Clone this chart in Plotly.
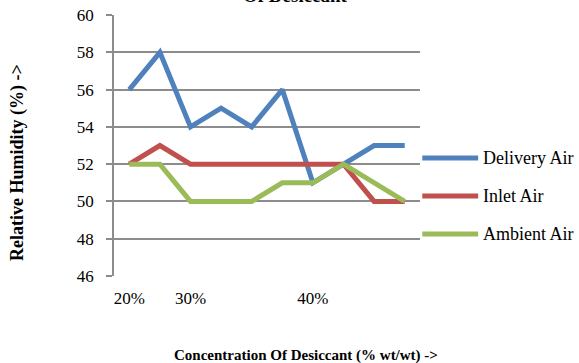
import plotly.graph_objects as go

# ---- data ----
x_pos = [1, 2, 3, 4, 5, 6, 7, 8, 9, 10]
tick_vals = [1, 3, 7]
tick_text = ["20%", "30%", "40%"]
delivery_air = [56, 58, 54, 55, 54, 56, 51, 52, 53, 53]
inlet_air = [52, 53, 52, 52, 52, 52, 52, 52, 50, 50]
ambient_air = [52, 52, 50, 50, 50, 51, 51, 52, 51, 50]
series_names = ["Delivery Air", "Inlet Air", "Ambient Air"]
series_values = [delivery_air, inlet_air, ambient_air]
colors = ["#4F81BD", "#C0504D", "#9BBB59"]

FONT = "Liberation Serif"
GRID = "#8C8C8C"

fig = go.Figure()
for name, vals, col in zip(series_names, series_values, colors):
    fig.add_trace(go.Scatter(x=x_pos, y=vals, mode="lines", name=name,
                             line=dict(color=col, width=5),
                             showlegend=False))

# manual legend (long line samples like the original)
leg_y = [0.4520, 0.3065, 0.1609]
for name, col, ly in zip(series_names, colors, leg_y):
    fig.add_shape(type="line", xref="paper", yref="paper",
                  x0=1.0075, x1=1.19, y0=ly, y1=ly,
                  line=dict(color=col, width=5))
    fig.add_annotation(text=name, xref="paper", yref="paper",
                       x=1.20, y=ly, xanchor="left", yanchor="middle",
                       showarrow=False,
                       font=dict(family=FONT, size=18, color="#000"))

# clipped title
fig.add_annotation(text="<b>Of Desiccant</b>", xref="paper", yref="paper",
                   x=0.593, y=1.0, yshift=7, xanchor="center", yanchor="bottom",
                   showarrow=False,
                   font=dict(family=FONT, size=19, color="#000"))

# axis titles
fig.add_annotation(text="<b>Concentration Of Desiccant (% wt/wt) -></b>",
                   xref="paper", yref="paper", x=0.627, y=0, yshift=-79,
                   xanchor="center", yanchor="middle", showarrow=False,
                   font=dict(family=FONT, size=15, color="#000"))
fig.add_annotation(text="<b>Relative Humidity (%) -></b>", textangle=-90,
                   xref="paper", yref="paper", x=0, xshift=-96, y=0.433,
                   xanchor="center", yanchor="middle", showarrow=False,
                   font=dict(family=FONT, size=18, color="#000"))

fig.update_layout(
    width=579, height=363,
    margin=dict(l=114, r=159, t=15, b=87),
    paper_bgcolor="white", plot_bgcolor="white",
    font=dict(family=FONT, size=17, color="#000"),
    xaxis=dict(range=[0.5, 10.5], tickmode="array", tickvals=tick_vals,
               ticktext=tick_text, showgrid=False, zeroline=False,
               showline=False, ticks="", ticklabelstandoff=10,
               automargin=False,
               tickfont=dict(family=FONT, size=17)),
    yaxis=dict(range=[46, 60], dtick=2, showgrid=True, gridcolor=GRID,
               gridwidth=1.5, zeroline=False, showline=True, linecolor=GRID,
               linewidth=1.5, ticks="outside", ticklen=6, tickcolor=GRID,
               tickwidth=1.5, ticklabelstandoff=9, automargin=False,
               tickfont=dict(family=FONT, size=17)),
)

fig.write_html("out.html", config={"displayModeBar": False},
               post_script="document.body.style.margin='0';"
                           "document.body.style.overflow='hidden';")
